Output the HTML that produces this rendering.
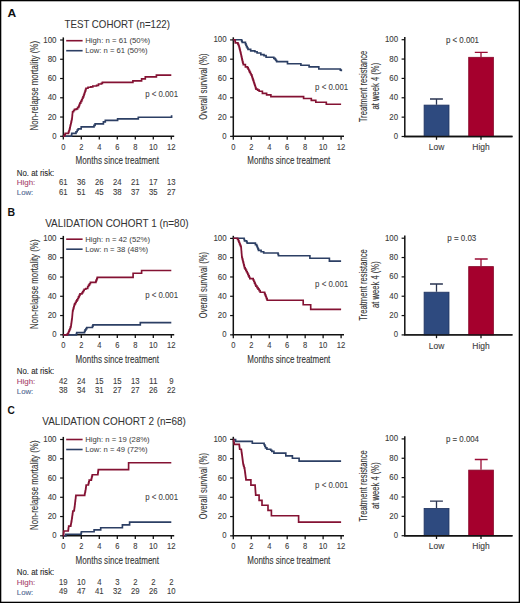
<!DOCTYPE html><html><head><meta charset="utf-8"><style>html,body{margin:0;padding:0;background:#fff;width:520px;height:603px;overflow:hidden}svg{display:block;font-family:"Liberation Sans", sans-serif}</style></head><body>
<svg width="520" height="603" viewBox="0 0 520 603">
<rect x="0" y="0" width="520" height="603" fill="#fff"/>
<text x="7.6" y="17.0" font-size="10.8" textLength="8.7" lengthAdjust="spacingAndGlyphs" font-weight="bold" fill="#111" stroke="#111" stroke-width="0">A</text>
<text x="64.5" y="28.1" font-size="10.3" textLength="105.5" lengthAdjust="spacingAndGlyphs" fill="#333" stroke="#333" stroke-width="0.05">TEST COHORT (n=122)</text>
<path d="M63.3,37.4V136.3" stroke="#111" stroke-width="1.5" fill="none"/>
<path d="M62.599999999999994,136.3H174.20000000000002" stroke="#111" stroke-width="1.5" fill="none"/>
<path d="M60.099999999999994,136.30H63.3" stroke="#111" stroke-width="1.2"/>
<path d="M60.099999999999994,117.04H63.3" stroke="#111" stroke-width="1.2"/>
<path d="M60.099999999999994,97.78H63.3" stroke="#111" stroke-width="1.2"/>
<path d="M60.099999999999994,78.52H63.3" stroke="#111" stroke-width="1.2"/>
<path d="M60.099999999999994,59.26H63.3" stroke="#111" stroke-width="1.2"/>
<path d="M60.099999999999994,40.00H63.3" stroke="#111" stroke-width="1.2"/>
<path d="M63.30,136.3V139.60000000000002" stroke="#111" stroke-width="1.3"/>
<path d="M81.30,136.3V139.60000000000002" stroke="#111" stroke-width="1.3"/>
<path d="M99.30,136.3V139.60000000000002" stroke="#111" stroke-width="1.3"/>
<path d="M117.30,136.3V139.60000000000002" stroke="#111" stroke-width="1.3"/>
<path d="M135.30,136.3V139.60000000000002" stroke="#111" stroke-width="1.3"/>
<path d="M153.30,136.3V139.60000000000002" stroke="#111" stroke-width="1.3"/>
<path d="M171.30,136.3V139.60000000000002" stroke="#111" stroke-width="1.3"/>
<text x="56.5" y="138.85" font-size="8.7" text-anchor="end" textLength="4.3" lengthAdjust="spacingAndGlyphs" fill="#3c3c3c" stroke="#3c3c3c" stroke-width="0.1">0</text>
<text x="56.5" y="119.59" font-size="8.7" text-anchor="end" textLength="8.8" lengthAdjust="spacingAndGlyphs" fill="#3c3c3c" stroke="#3c3c3c" stroke-width="0.1">20</text>
<text x="56.5" y="100.33" font-size="8.7" text-anchor="end" textLength="8.8" lengthAdjust="spacingAndGlyphs" fill="#3c3c3c" stroke="#3c3c3c" stroke-width="0.1">40</text>
<text x="56.5" y="81.07" font-size="8.7" text-anchor="end" textLength="8.8" lengthAdjust="spacingAndGlyphs" fill="#3c3c3c" stroke="#3c3c3c" stroke-width="0.1">60</text>
<text x="56.5" y="61.81" font-size="8.7" text-anchor="end" textLength="8.8" lengthAdjust="spacingAndGlyphs" fill="#3c3c3c" stroke="#3c3c3c" stroke-width="0.1">80</text>
<text x="56.5" y="42.55" font-size="8.7" text-anchor="end" textLength="13.2" lengthAdjust="spacingAndGlyphs" fill="#3c3c3c" stroke="#3c3c3c" stroke-width="0.1">100</text>
<text x="63.30" y="149.9" font-size="8.7" text-anchor="middle" textLength="4.2" lengthAdjust="spacingAndGlyphs" fill="#3c3c3c" stroke="#3c3c3c" stroke-width="0.1">0</text>
<text x="81.30" y="149.9" font-size="8.7" text-anchor="middle" textLength="4.2" lengthAdjust="spacingAndGlyphs" fill="#3c3c3c" stroke="#3c3c3c" stroke-width="0.1">2</text>
<text x="99.30" y="149.9" font-size="8.7" text-anchor="middle" textLength="4.2" lengthAdjust="spacingAndGlyphs" fill="#3c3c3c" stroke="#3c3c3c" stroke-width="0.1">4</text>
<text x="117.30" y="149.9" font-size="8.7" text-anchor="middle" textLength="4.2" lengthAdjust="spacingAndGlyphs" fill="#3c3c3c" stroke="#3c3c3c" stroke-width="0.1">6</text>
<text x="135.30" y="149.9" font-size="8.7" text-anchor="middle" textLength="4.2" lengthAdjust="spacingAndGlyphs" fill="#3c3c3c" stroke="#3c3c3c" stroke-width="0.1">8</text>
<text x="153.30" y="149.9" font-size="8.7" text-anchor="middle" textLength="8.6" lengthAdjust="spacingAndGlyphs" fill="#3c3c3c" stroke="#3c3c3c" stroke-width="0.1">10</text>
<text x="171.30" y="149.9" font-size="8.7" text-anchor="middle" textLength="8.6" lengthAdjust="spacingAndGlyphs" fill="#3c3c3c" stroke="#3c3c3c" stroke-width="0.1">12</text>
<text x="117.3" y="164.1" font-size="10" text-anchor="middle" textLength="83.5" lengthAdjust="spacingAndGlyphs" fill="#333" stroke="#333" stroke-width="0.1">Months since treatment</text>
<text transform="translate(37.6,85.7) rotate(-90)" font-size="10" text-anchor="middle" textLength="89.4" lengthAdjust="spacingAndGlyphs" fill="#333" stroke="#333" stroke-width="0.1">Non-relapse mortality (%)</text>
<path d="M66.2,40.7H82.6" stroke="#841233" stroke-width="1.6"/>
<path d="M66.2,50.7H82.6" stroke="#2c3f64" stroke-width="1.6"/>
<text x="85.2" y="43.2" font-size="7.2" textLength="65.0" lengthAdjust="spacingAndGlyphs" fill="#3a3a3a" stroke="#3a3a3a" stroke-width="0">High: n = 61 (50%)</text>
<text x="85.2" y="53.2" font-size="7.2" textLength="62.5" lengthAdjust="spacingAndGlyphs" fill="#3a3a3a" stroke="#3a3a3a" stroke-width="0">Low: n = 61 (50%)</text>
<text x="145.2" y="97.0" font-size="8.4" textLength="32.9" lengthAdjust="spacingAndGlyphs" fill="#3c3c3c" stroke="#3c3c3c" stroke-width="0.05">p &lt; 0.001</text>
<text x="16.8" y="175.9" font-size="8.5" textLength="37.5" lengthAdjust="spacingAndGlyphs" fill="#2a2a2a" stroke="#2a2a2a" stroke-width="0.1">No. at risk:</text>
<text x="16.8" y="185.4" font-size="8.1" textLength="18.5" lengthAdjust="spacingAndGlyphs" fill="#a8456a" stroke="#a8456a" stroke-width="0.1">High:</text>
<text x="16.8" y="195.0" font-size="8.1" textLength="16.5" lengthAdjust="spacingAndGlyphs" fill="#4e6690" stroke="#4e6690" stroke-width="0.1">Low:</text>
<text x="63.30" y="185.2" font-size="8.4" text-anchor="middle" textLength="8.6" lengthAdjust="spacingAndGlyphs" fill="#3c3c3c" stroke="#3c3c3c" stroke-width="0.1">61</text>
<text x="63.30" y="194.8" font-size="8.4" text-anchor="middle" textLength="8.6" lengthAdjust="spacingAndGlyphs" fill="#3c3c3c" stroke="#3c3c3c" stroke-width="0.1">61</text>
<text x="81.30" y="185.2" font-size="8.4" text-anchor="middle" textLength="8.6" lengthAdjust="spacingAndGlyphs" fill="#3c3c3c" stroke="#3c3c3c" stroke-width="0.1">36</text>
<text x="81.30" y="194.8" font-size="8.4" text-anchor="middle" textLength="8.6" lengthAdjust="spacingAndGlyphs" fill="#3c3c3c" stroke="#3c3c3c" stroke-width="0.1">51</text>
<text x="99.30" y="185.2" font-size="8.4" text-anchor="middle" textLength="8.6" lengthAdjust="spacingAndGlyphs" fill="#3c3c3c" stroke="#3c3c3c" stroke-width="0.1">26</text>
<text x="99.30" y="194.8" font-size="8.4" text-anchor="middle" textLength="8.6" lengthAdjust="spacingAndGlyphs" fill="#3c3c3c" stroke="#3c3c3c" stroke-width="0.1">45</text>
<text x="117.30" y="185.2" font-size="8.4" text-anchor="middle" textLength="8.6" lengthAdjust="spacingAndGlyphs" fill="#3c3c3c" stroke="#3c3c3c" stroke-width="0.1">24</text>
<text x="117.30" y="194.8" font-size="8.4" text-anchor="middle" textLength="8.6" lengthAdjust="spacingAndGlyphs" fill="#3c3c3c" stroke="#3c3c3c" stroke-width="0.1">38</text>
<text x="135.30" y="185.2" font-size="8.4" text-anchor="middle" textLength="8.6" lengthAdjust="spacingAndGlyphs" fill="#3c3c3c" stroke="#3c3c3c" stroke-width="0.1">21</text>
<text x="135.30" y="194.8" font-size="8.4" text-anchor="middle" textLength="8.6" lengthAdjust="spacingAndGlyphs" fill="#3c3c3c" stroke="#3c3c3c" stroke-width="0.1">37</text>
<text x="153.30" y="185.2" font-size="8.4" text-anchor="middle" textLength="8.6" lengthAdjust="spacingAndGlyphs" fill="#3c3c3c" stroke="#3c3c3c" stroke-width="0.1">17</text>
<text x="153.30" y="194.8" font-size="8.4" text-anchor="middle" textLength="8.6" lengthAdjust="spacingAndGlyphs" fill="#3c3c3c" stroke="#3c3c3c" stroke-width="0.1">35</text>
<text x="171.30" y="185.2" font-size="8.4" text-anchor="middle" textLength="8.6" lengthAdjust="spacingAndGlyphs" fill="#3c3c3c" stroke="#3c3c3c" stroke-width="0.1">13</text>
<text x="171.30" y="194.8" font-size="8.4" text-anchor="middle" textLength="8.6" lengthAdjust="spacingAndGlyphs" fill="#3c3c3c" stroke="#3c3c3c" stroke-width="0.1">27</text>
<path d="M63.10,136.20H71.40H71.55V134.80H71.70V133.40H74.80H76.00V131.70H77.20V130.00H78.20V128.80H81.20V126.80H92.90H94.00V125.30H95.10V123.80H102.20H103.40V121.80H105.30V120.30H116.80H117.60V118.80H138.30V117.20H170.30H171.60V115.30" stroke="#2c3f64" stroke-width="1.65" fill="none" stroke-linejoin="miter"/>
<path d="M63.10,136.20H64.00V135.80H64.60V134.60H65.20V133.40H68.00H68.50V131.97H69.00V130.53H69.50V129.10H69.85V127.55H70.20V126.00H70.50V124.75H70.80V123.50H71.10V122.12H71.40V120.75H71.70V119.38H72.00V118.00H72.15V116.42H72.30V114.85H72.45V113.28H72.60V111.70H73.55V110.50H74.50V109.30H76.40V108.80H77.60V107.40H78.80V106.00H79.30V104.55H79.80V103.10H80.75V101.40H81.70V99.70H82.33V98.27H82.97V96.83H83.60V95.40H84.08V93.96H84.56V92.52H85.04V91.08H85.52V89.64H86.00V88.20H88.00V87.20H90.80V86.90H92.80V86.00H96.60V85.30H98.50V84.00H101.40V83.40H102.40V82.40H132.90V80.90H141.60V78.80H145.30V76.80H156.40V75.10H171.30" stroke="#841233" stroke-width="1.65" fill="none" stroke-linejoin="miter"/>
<path d="M233.3,37.3V136.35" stroke="#111" stroke-width="1.5" fill="none"/>
<path d="M232.60000000000002,136.35H344.0" stroke="#111" stroke-width="1.5" fill="none"/>
<path d="M230.10000000000002,136.35H233.3" stroke="#111" stroke-width="1.2"/>
<path d="M230.10000000000002,117.06H233.3" stroke="#111" stroke-width="1.2"/>
<path d="M230.10000000000002,97.77H233.3" stroke="#111" stroke-width="1.2"/>
<path d="M230.10000000000002,78.48H233.3" stroke="#111" stroke-width="1.2"/>
<path d="M230.10000000000002,59.19H233.3" stroke="#111" stroke-width="1.2"/>
<path d="M230.10000000000002,39.90H233.3" stroke="#111" stroke-width="1.2"/>
<path d="M233.30,136.35V139.65" stroke="#111" stroke-width="1.3"/>
<path d="M251.27,136.35V139.65" stroke="#111" stroke-width="1.3"/>
<path d="M269.23,136.35V139.65" stroke="#111" stroke-width="1.3"/>
<path d="M287.20,136.35V139.65" stroke="#111" stroke-width="1.3"/>
<path d="M305.17,136.35V139.65" stroke="#111" stroke-width="1.3"/>
<path d="M323.13,136.35V139.65" stroke="#111" stroke-width="1.3"/>
<path d="M341.10,136.35V139.65" stroke="#111" stroke-width="1.3"/>
<text x="226.6" y="138.90" font-size="8.7" text-anchor="end" textLength="4.3" lengthAdjust="spacingAndGlyphs" fill="#3c3c3c" stroke="#3c3c3c" stroke-width="0.1">0</text>
<text x="226.6" y="119.61" font-size="8.7" text-anchor="end" textLength="8.8" lengthAdjust="spacingAndGlyphs" fill="#3c3c3c" stroke="#3c3c3c" stroke-width="0.1">20</text>
<text x="226.6" y="100.32" font-size="8.7" text-anchor="end" textLength="8.8" lengthAdjust="spacingAndGlyphs" fill="#3c3c3c" stroke="#3c3c3c" stroke-width="0.1">40</text>
<text x="226.6" y="81.03" font-size="8.7" text-anchor="end" textLength="8.8" lengthAdjust="spacingAndGlyphs" fill="#3c3c3c" stroke="#3c3c3c" stroke-width="0.1">60</text>
<text x="226.6" y="61.74" font-size="8.7" text-anchor="end" textLength="8.8" lengthAdjust="spacingAndGlyphs" fill="#3c3c3c" stroke="#3c3c3c" stroke-width="0.1">80</text>
<text x="226.6" y="42.45" font-size="8.7" text-anchor="end" textLength="13.2" lengthAdjust="spacingAndGlyphs" fill="#3c3c3c" stroke="#3c3c3c" stroke-width="0.1">100</text>
<text x="233.30" y="149.9" font-size="8.7" text-anchor="middle" textLength="4.2" lengthAdjust="spacingAndGlyphs" fill="#3c3c3c" stroke="#3c3c3c" stroke-width="0.1">0</text>
<text x="251.27" y="149.9" font-size="8.7" text-anchor="middle" textLength="4.2" lengthAdjust="spacingAndGlyphs" fill="#3c3c3c" stroke="#3c3c3c" stroke-width="0.1">2</text>
<text x="269.23" y="149.9" font-size="8.7" text-anchor="middle" textLength="4.2" lengthAdjust="spacingAndGlyphs" fill="#3c3c3c" stroke="#3c3c3c" stroke-width="0.1">4</text>
<text x="287.20" y="149.9" font-size="8.7" text-anchor="middle" textLength="4.2" lengthAdjust="spacingAndGlyphs" fill="#3c3c3c" stroke="#3c3c3c" stroke-width="0.1">6</text>
<text x="305.17" y="149.9" font-size="8.7" text-anchor="middle" textLength="4.2" lengthAdjust="spacingAndGlyphs" fill="#3c3c3c" stroke="#3c3c3c" stroke-width="0.1">8</text>
<text x="323.13" y="149.9" font-size="8.7" text-anchor="middle" textLength="8.6" lengthAdjust="spacingAndGlyphs" fill="#3c3c3c" stroke="#3c3c3c" stroke-width="0.1">10</text>
<text x="341.10" y="149.9" font-size="8.7" text-anchor="middle" textLength="8.6" lengthAdjust="spacingAndGlyphs" fill="#3c3c3c" stroke="#3c3c3c" stroke-width="0.1">12</text>
<text x="288.8" y="164.1" font-size="10" text-anchor="middle" textLength="83.0" lengthAdjust="spacingAndGlyphs" fill="#333" stroke="#333" stroke-width="0.1">Months since treatment</text>
<text transform="translate(206.9,86.6) rotate(-90)" font-size="10" text-anchor="middle" textLength="66.4" lengthAdjust="spacingAndGlyphs" fill="#333" stroke="#333" stroke-width="0.1">Overall survival (%)</text>
<text x="315.1" y="89.8" font-size="8.4" textLength="33.1" lengthAdjust="spacingAndGlyphs" fill="#3c3c3c" stroke="#3c3c3c" stroke-width="0.05">p &lt; 0.001</text>
<path d="M233.20,39.70H241.10H241.65V41.05H242.20V42.40H244.90H245.43V43.80H245.97V45.20H246.50V46.60H247.25V47.95H248.00V49.30H250.70V50.90H254.90V51.70H257.10V53.00H260.80V54.60H264.00V55.60H266.10V57.20H272.50H273.80V58.30H275.10V59.40H275.90V60.50H276.70V61.60H287.50V63.70H300.90V65.20H309.10V66.90H318.80V69.00H339.40H340.35V70.10H341.30V71.20" stroke="#2c3f64" stroke-width="1.65" fill="none"/>
<path d="M233.20,39.70H234.80H235.05V41.30H235.30V42.90H237.40H237.93V44.13H238.47V45.37H239.00V46.60H239.32V47.88H239.64V49.16H239.96V50.44H240.28V51.72H240.60V53.00H240.92V54.48H241.24V55.96H241.56V57.44H241.88V58.92H242.20V60.40H242.57V61.83H242.93V63.27H243.30V64.70H245.40V66.80H247.50V67.80H248.20V69.23H248.90V70.67H249.60V72.10H250.33V73.50H251.07V74.90H251.80V76.30H252.22V77.58H252.64V78.86H253.06V80.14H253.48V81.42H253.90V82.70H254.32V83.98H254.74V85.26H255.16V86.54H255.58V87.82H256.00V89.10H257.60V90.15H259.20V91.20H262.40V93.30H266.60V94.90H270.90V96.60H303.60V98.50H311.30V100.40H315.80V102.20H326.30V104.20H341.10" stroke="#841233" stroke-width="1.65" fill="none"/>
<path d="M404.8,37.1V136.5" stroke="#111" stroke-width="1.5" fill="none"/>
<path d="M404.1,136.5H512.5" stroke="#111" stroke-width="1.4" fill="none"/>
<path d="M401.6,136.50H404.8" stroke="#111" stroke-width="1.2"/>
<path d="M401.6,117.14H404.8" stroke="#111" stroke-width="1.2"/>
<path d="M401.6,97.78H404.8" stroke="#111" stroke-width="1.2"/>
<path d="M401.6,78.42H404.8" stroke="#111" stroke-width="1.2"/>
<path d="M401.6,59.06H404.8" stroke="#111" stroke-width="1.2"/>
<path d="M401.6,39.70H404.8" stroke="#111" stroke-width="1.2"/>
<path d="M436.5,136.5V139.8" stroke="#111" stroke-width="1.3"/>
<path d="M481.0,136.5V139.8" stroke="#111" stroke-width="1.3"/>
<text x="398.1" y="139.05" font-size="8.7" text-anchor="end" textLength="4.3" lengthAdjust="spacingAndGlyphs" fill="#3c3c3c" stroke="#3c3c3c" stroke-width="0.1">0</text>
<text x="398.1" y="119.69" font-size="8.7" text-anchor="end" textLength="8.8" lengthAdjust="spacingAndGlyphs" fill="#3c3c3c" stroke="#3c3c3c" stroke-width="0.1">20</text>
<text x="398.1" y="100.33" font-size="8.7" text-anchor="end" textLength="8.8" lengthAdjust="spacingAndGlyphs" fill="#3c3c3c" stroke="#3c3c3c" stroke-width="0.1">40</text>
<text x="398.1" y="80.97" font-size="8.7" text-anchor="end" textLength="8.8" lengthAdjust="spacingAndGlyphs" fill="#3c3c3c" stroke="#3c3c3c" stroke-width="0.1">60</text>
<text x="398.1" y="61.61" font-size="8.7" text-anchor="end" textLength="8.8" lengthAdjust="spacingAndGlyphs" fill="#3c3c3c" stroke="#3c3c3c" stroke-width="0.1">80</text>
<text x="398.1" y="42.25" font-size="8.7" text-anchor="end" textLength="13.2" lengthAdjust="spacingAndGlyphs" fill="#3c3c3c" stroke="#3c3c3c" stroke-width="0.1">100</text>
<text transform="translate(366.6,86.5) rotate(-90)" font-size="10" text-anchor="middle" textLength="71.6" lengthAdjust="spacingAndGlyphs" fill="#333" stroke="#333" stroke-width="0.1">Treatment resistance</text>
<text transform="translate(379.0,86.2) rotate(-90)" font-size="10" text-anchor="middle" textLength="46.8" lengthAdjust="spacingAndGlyphs" fill="#333" stroke="#333" stroke-width="0.1">at week 4 (%)</text>
<rect x="424.1" y="105.10000000000001" width="24.9" height="31.40" fill="#2e4a7f" stroke="#1f3360" stroke-width="0.8"/>
<rect x="468.7" y="57.3" width="24.7" height="79.20" fill="#a5002d" stroke="#86082a" stroke-width="0.8"/>
<path d="M436.5,104.7V99.0M430,99.0H442.9" stroke="#2a3552" stroke-width="1.3" fill="none"/>
<path d="M481,56.9V52.3M474.8,52.3H487.7" stroke="#9a0c35" stroke-width="1.3" fill="none"/>
<path d="M404.1,136.5H512.5" stroke="#111" stroke-width="1.4" fill="none"/>
<text x="436.5" y="150.2" font-size="8.4" text-anchor="middle" textLength="15.5" lengthAdjust="spacingAndGlyphs" fill="#3c3c3c" stroke="#3c3c3c" stroke-width="0.1">Low</text>
<text x="481.0" y="150.2" font-size="8.4" text-anchor="middle" textLength="17.5" lengthAdjust="spacingAndGlyphs" fill="#3c3c3c" stroke="#3c3c3c" stroke-width="0.1">High</text>
<text x="446.0" y="42.7" font-size="8.4" textLength="33.0" lengthAdjust="spacingAndGlyphs" fill="#3c3c3c" stroke="#3c3c3c" stroke-width="0.1">p &lt; 0.001</text>
<text x="7.6" y="215.5" font-size="10.8" textLength="7.6" lengthAdjust="spacingAndGlyphs" font-weight="bold" fill="#111" stroke="#111" stroke-width="0">B</text>
<text x="45.2" y="226.6" font-size="10.3" textLength="143.3" lengthAdjust="spacingAndGlyphs" fill="#333" stroke="#333" stroke-width="0.05">VALIDATION COHORT 1 (n=80)</text>
<path d="M63.3,235.9V334.8" stroke="#111" stroke-width="1.5" fill="none"/>
<path d="M62.599999999999994,334.8H174.20000000000002" stroke="#111" stroke-width="1.5" fill="none"/>
<path d="M60.099999999999994,334.80H63.3" stroke="#111" stroke-width="1.2"/>
<path d="M60.099999999999994,315.54H63.3" stroke="#111" stroke-width="1.2"/>
<path d="M60.099999999999994,296.28H63.3" stroke="#111" stroke-width="1.2"/>
<path d="M60.099999999999994,277.02H63.3" stroke="#111" stroke-width="1.2"/>
<path d="M60.099999999999994,257.76H63.3" stroke="#111" stroke-width="1.2"/>
<path d="M60.099999999999994,238.50H63.3" stroke="#111" stroke-width="1.2"/>
<path d="M63.30,334.8V338.1" stroke="#111" stroke-width="1.3"/>
<path d="M81.30,334.8V338.1" stroke="#111" stroke-width="1.3"/>
<path d="M99.30,334.8V338.1" stroke="#111" stroke-width="1.3"/>
<path d="M117.30,334.8V338.1" stroke="#111" stroke-width="1.3"/>
<path d="M135.30,334.8V338.1" stroke="#111" stroke-width="1.3"/>
<path d="M153.30,334.8V338.1" stroke="#111" stroke-width="1.3"/>
<path d="M171.30,334.8V338.1" stroke="#111" stroke-width="1.3"/>
<text x="56.5" y="337.35" font-size="8.7" text-anchor="end" textLength="4.3" lengthAdjust="spacingAndGlyphs" fill="#3c3c3c" stroke="#3c3c3c" stroke-width="0.1">0</text>
<text x="56.5" y="318.09" font-size="8.7" text-anchor="end" textLength="8.8" lengthAdjust="spacingAndGlyphs" fill="#3c3c3c" stroke="#3c3c3c" stroke-width="0.1">20</text>
<text x="56.5" y="298.83" font-size="8.7" text-anchor="end" textLength="8.8" lengthAdjust="spacingAndGlyphs" fill="#3c3c3c" stroke="#3c3c3c" stroke-width="0.1">40</text>
<text x="56.5" y="279.57" font-size="8.7" text-anchor="end" textLength="8.8" lengthAdjust="spacingAndGlyphs" fill="#3c3c3c" stroke="#3c3c3c" stroke-width="0.1">60</text>
<text x="56.5" y="260.31" font-size="8.7" text-anchor="end" textLength="8.8" lengthAdjust="spacingAndGlyphs" fill="#3c3c3c" stroke="#3c3c3c" stroke-width="0.1">80</text>
<text x="56.5" y="241.05" font-size="8.7" text-anchor="end" textLength="13.2" lengthAdjust="spacingAndGlyphs" fill="#3c3c3c" stroke="#3c3c3c" stroke-width="0.1">100</text>
<text x="63.30" y="348.4" font-size="8.7" text-anchor="middle" textLength="4.2" lengthAdjust="spacingAndGlyphs" fill="#3c3c3c" stroke="#3c3c3c" stroke-width="0.1">0</text>
<text x="81.30" y="348.4" font-size="8.7" text-anchor="middle" textLength="4.2" lengthAdjust="spacingAndGlyphs" fill="#3c3c3c" stroke="#3c3c3c" stroke-width="0.1">2</text>
<text x="99.30" y="348.4" font-size="8.7" text-anchor="middle" textLength="4.2" lengthAdjust="spacingAndGlyphs" fill="#3c3c3c" stroke="#3c3c3c" stroke-width="0.1">4</text>
<text x="117.30" y="348.4" font-size="8.7" text-anchor="middle" textLength="4.2" lengthAdjust="spacingAndGlyphs" fill="#3c3c3c" stroke="#3c3c3c" stroke-width="0.1">6</text>
<text x="135.30" y="348.4" font-size="8.7" text-anchor="middle" textLength="4.2" lengthAdjust="spacingAndGlyphs" fill="#3c3c3c" stroke="#3c3c3c" stroke-width="0.1">8</text>
<text x="153.30" y="348.4" font-size="8.7" text-anchor="middle" textLength="8.6" lengthAdjust="spacingAndGlyphs" fill="#3c3c3c" stroke="#3c3c3c" stroke-width="0.1">10</text>
<text x="171.30" y="348.4" font-size="8.7" text-anchor="middle" textLength="8.6" lengthAdjust="spacingAndGlyphs" fill="#3c3c3c" stroke="#3c3c3c" stroke-width="0.1">12</text>
<text x="117.3" y="362.6" font-size="10" text-anchor="middle" textLength="83.5" lengthAdjust="spacingAndGlyphs" fill="#333" stroke="#333" stroke-width="0.1">Months since treatment</text>
<text transform="translate(37.6,284.2) rotate(-90)" font-size="10" text-anchor="middle" textLength="89.4" lengthAdjust="spacingAndGlyphs" fill="#333" stroke="#333" stroke-width="0.1">Non-relapse mortality (%)</text>
<path d="M66.2,239.2H82.6" stroke="#841233" stroke-width="1.6"/>
<path d="M66.2,249.2H82.6" stroke="#2c3f64" stroke-width="1.6"/>
<text x="85.2" y="241.7" font-size="7.2" textLength="64.8" lengthAdjust="spacingAndGlyphs" fill="#3a3a3a" stroke="#3a3a3a" stroke-width="0">High: n = 42 (52%)</text>
<text x="85.2" y="251.7" font-size="7.2" textLength="62.9" lengthAdjust="spacingAndGlyphs" fill="#3a3a3a" stroke="#3a3a3a" stroke-width="0">Low: n = 38 (48%)</text>
<text x="145.2" y="298.2" font-size="8.4" textLength="32.9" lengthAdjust="spacingAndGlyphs" fill="#3c3c3c" stroke="#3c3c3c" stroke-width="0.05">p &lt; 0.001</text>
<text x="16.8" y="374.4" font-size="8.5" textLength="37.5" lengthAdjust="spacingAndGlyphs" fill="#2a2a2a" stroke="#2a2a2a" stroke-width="0.1">No. at risk:</text>
<text x="16.8" y="383.9" font-size="8.1" textLength="18.5" lengthAdjust="spacingAndGlyphs" fill="#a8456a" stroke="#a8456a" stroke-width="0.1">High:</text>
<text x="16.8" y="393.5" font-size="8.1" textLength="16.5" lengthAdjust="spacingAndGlyphs" fill="#4e6690" stroke="#4e6690" stroke-width="0.1">Low:</text>
<text x="63.30" y="383.7" font-size="8.4" text-anchor="middle" textLength="8.6" lengthAdjust="spacingAndGlyphs" fill="#3c3c3c" stroke="#3c3c3c" stroke-width="0.1">42</text>
<text x="63.30" y="393.3" font-size="8.4" text-anchor="middle" textLength="8.6" lengthAdjust="spacingAndGlyphs" fill="#3c3c3c" stroke="#3c3c3c" stroke-width="0.1">38</text>
<text x="81.30" y="383.7" font-size="8.4" text-anchor="middle" textLength="8.6" lengthAdjust="spacingAndGlyphs" fill="#3c3c3c" stroke="#3c3c3c" stroke-width="0.1">24</text>
<text x="81.30" y="393.3" font-size="8.4" text-anchor="middle" textLength="8.6" lengthAdjust="spacingAndGlyphs" fill="#3c3c3c" stroke="#3c3c3c" stroke-width="0.1">34</text>
<text x="99.30" y="383.7" font-size="8.4" text-anchor="middle" textLength="8.6" lengthAdjust="spacingAndGlyphs" fill="#3c3c3c" stroke="#3c3c3c" stroke-width="0.1">15</text>
<text x="99.30" y="393.3" font-size="8.4" text-anchor="middle" textLength="8.6" lengthAdjust="spacingAndGlyphs" fill="#3c3c3c" stroke="#3c3c3c" stroke-width="0.1">31</text>
<text x="117.30" y="383.7" font-size="8.4" text-anchor="middle" textLength="8.6" lengthAdjust="spacingAndGlyphs" fill="#3c3c3c" stroke="#3c3c3c" stroke-width="0.1">15</text>
<text x="117.30" y="393.3" font-size="8.4" text-anchor="middle" textLength="8.6" lengthAdjust="spacingAndGlyphs" fill="#3c3c3c" stroke="#3c3c3c" stroke-width="0.1">27</text>
<text x="135.30" y="383.7" font-size="8.4" text-anchor="middle" textLength="8.6" lengthAdjust="spacingAndGlyphs" fill="#3c3c3c" stroke="#3c3c3c" stroke-width="0.1">13</text>
<text x="135.30" y="393.3" font-size="8.4" text-anchor="middle" textLength="8.6" lengthAdjust="spacingAndGlyphs" fill="#3c3c3c" stroke="#3c3c3c" stroke-width="0.1">27</text>
<text x="153.30" y="383.7" font-size="8.4" text-anchor="middle" textLength="8.6" lengthAdjust="spacingAndGlyphs" fill="#3c3c3c" stroke="#3c3c3c" stroke-width="0.1">11</text>
<text x="153.30" y="393.3" font-size="8.4" text-anchor="middle" textLength="8.6" lengthAdjust="spacingAndGlyphs" fill="#3c3c3c" stroke="#3c3c3c" stroke-width="0.1">26</text>
<text x="171.30" y="383.7" font-size="8.4" text-anchor="middle" textLength="4.3" lengthAdjust="spacingAndGlyphs" fill="#3c3c3c" stroke="#3c3c3c" stroke-width="0.1">9</text>
<text x="171.30" y="393.3" font-size="8.4" text-anchor="middle" textLength="8.6" lengthAdjust="spacingAndGlyphs" fill="#3c3c3c" stroke="#3c3c3c" stroke-width="0.1">22</text>
<path d="M63.10,334.80H76.10H76.40V333.70H76.70V332.60H84.00H84.55V331.20H85.10V329.80H85.95V328.65H86.80V327.50H91.90H92.45V326.15H93.00V324.80H140.30V322.60H171.30" stroke="#2c3f64" stroke-width="1.65" fill="none" stroke-linejoin="miter"/>
<path d="M63.10,334.80H66.50H67.35V333.70H68.20V332.60H68.77V331.27H69.33V329.93H69.90V328.60H70.45V326.90H71.00V325.20H71.18V323.90H71.37V322.60H71.55V321.30H71.73V320.00H71.92V318.70H72.10V317.40H72.22V316.04H72.34V314.68H72.46V313.32H72.58V311.96H72.70V310.60H73.08V309.24H73.46V307.88H73.84V306.52H74.22V305.16H74.60V303.80H75.38V302.48H76.15V301.15H76.92V299.82H77.70V298.50H78.47V296.93H79.23V295.37H80.00V293.80H81.90V293.00H82.67V291.73H83.43V290.47H84.20V289.20H85.80V288.50H87.70V286.50H88.60V285.10H89.50V283.70H90.40V282.30H95.40H95.88V281.07H96.35V279.85H96.83V278.62H97.30V277.40H133.10V273.20H141.60V270.50H171.30" stroke="#841233" stroke-width="1.65" fill="none" stroke-linejoin="miter"/>
<path d="M233.3,235.8V334.85" stroke="#111" stroke-width="1.5" fill="none"/>
<path d="M232.60000000000002,334.85H344.0" stroke="#111" stroke-width="1.5" fill="none"/>
<path d="M230.10000000000002,334.85H233.3" stroke="#111" stroke-width="1.2"/>
<path d="M230.10000000000002,315.56H233.3" stroke="#111" stroke-width="1.2"/>
<path d="M230.10000000000002,296.27H233.3" stroke="#111" stroke-width="1.2"/>
<path d="M230.10000000000002,276.98H233.3" stroke="#111" stroke-width="1.2"/>
<path d="M230.10000000000002,257.69H233.3" stroke="#111" stroke-width="1.2"/>
<path d="M230.10000000000002,238.40H233.3" stroke="#111" stroke-width="1.2"/>
<path d="M233.30,334.85V338.15000000000003" stroke="#111" stroke-width="1.3"/>
<path d="M251.27,334.85V338.15000000000003" stroke="#111" stroke-width="1.3"/>
<path d="M269.23,334.85V338.15000000000003" stroke="#111" stroke-width="1.3"/>
<path d="M287.20,334.85V338.15000000000003" stroke="#111" stroke-width="1.3"/>
<path d="M305.17,334.85V338.15000000000003" stroke="#111" stroke-width="1.3"/>
<path d="M323.13,334.85V338.15000000000003" stroke="#111" stroke-width="1.3"/>
<path d="M341.10,334.85V338.15000000000003" stroke="#111" stroke-width="1.3"/>
<text x="226.6" y="337.40" font-size="8.7" text-anchor="end" textLength="4.3" lengthAdjust="spacingAndGlyphs" fill="#3c3c3c" stroke="#3c3c3c" stroke-width="0.1">0</text>
<text x="226.6" y="318.11" font-size="8.7" text-anchor="end" textLength="8.8" lengthAdjust="spacingAndGlyphs" fill="#3c3c3c" stroke="#3c3c3c" stroke-width="0.1">20</text>
<text x="226.6" y="298.82" font-size="8.7" text-anchor="end" textLength="8.8" lengthAdjust="spacingAndGlyphs" fill="#3c3c3c" stroke="#3c3c3c" stroke-width="0.1">40</text>
<text x="226.6" y="279.53" font-size="8.7" text-anchor="end" textLength="8.8" lengthAdjust="spacingAndGlyphs" fill="#3c3c3c" stroke="#3c3c3c" stroke-width="0.1">60</text>
<text x="226.6" y="260.24" font-size="8.7" text-anchor="end" textLength="8.8" lengthAdjust="spacingAndGlyphs" fill="#3c3c3c" stroke="#3c3c3c" stroke-width="0.1">80</text>
<text x="226.6" y="240.95" font-size="8.7" text-anchor="end" textLength="13.2" lengthAdjust="spacingAndGlyphs" fill="#3c3c3c" stroke="#3c3c3c" stroke-width="0.1">100</text>
<text x="233.30" y="348.4" font-size="8.7" text-anchor="middle" textLength="4.2" lengthAdjust="spacingAndGlyphs" fill="#3c3c3c" stroke="#3c3c3c" stroke-width="0.1">0</text>
<text x="251.27" y="348.4" font-size="8.7" text-anchor="middle" textLength="4.2" lengthAdjust="spacingAndGlyphs" fill="#3c3c3c" stroke="#3c3c3c" stroke-width="0.1">2</text>
<text x="269.23" y="348.4" font-size="8.7" text-anchor="middle" textLength="4.2" lengthAdjust="spacingAndGlyphs" fill="#3c3c3c" stroke="#3c3c3c" stroke-width="0.1">4</text>
<text x="287.20" y="348.4" font-size="8.7" text-anchor="middle" textLength="4.2" lengthAdjust="spacingAndGlyphs" fill="#3c3c3c" stroke="#3c3c3c" stroke-width="0.1">6</text>
<text x="305.17" y="348.4" font-size="8.7" text-anchor="middle" textLength="4.2" lengthAdjust="spacingAndGlyphs" fill="#3c3c3c" stroke="#3c3c3c" stroke-width="0.1">8</text>
<text x="323.13" y="348.4" font-size="8.7" text-anchor="middle" textLength="8.6" lengthAdjust="spacingAndGlyphs" fill="#3c3c3c" stroke="#3c3c3c" stroke-width="0.1">10</text>
<text x="341.10" y="348.4" font-size="8.7" text-anchor="middle" textLength="8.6" lengthAdjust="spacingAndGlyphs" fill="#3c3c3c" stroke="#3c3c3c" stroke-width="0.1">12</text>
<text x="288.8" y="362.6" font-size="10" text-anchor="middle" textLength="83.0" lengthAdjust="spacingAndGlyphs" fill="#333" stroke="#333" stroke-width="0.1">Months since treatment</text>
<text transform="translate(206.9,285.1) rotate(-90)" font-size="10" text-anchor="middle" textLength="66.4" lengthAdjust="spacingAndGlyphs" fill="#333" stroke="#333" stroke-width="0.1">Overall survival (%)</text>
<text x="315.1" y="287.3" font-size="8.4" textLength="33.1" lengthAdjust="spacingAndGlyphs" fill="#3c3c3c" stroke="#3c3c3c" stroke-width="0.05">p &lt; 0.001</text>
<path d="M233.20,238.20H243.70H244.10V239.50H244.50V240.80H246.00H246.60V241.95H247.20V243.10H254.10H255.40V244.55H256.70V246.00H257.30V247.47H257.90V248.93H258.50V250.40H261.10V251.70H263.70V253.00H277.60H278.05V254.35H278.50V255.70H309.90V258.20H329.40V261.10H341.10" stroke="#2c3f64" stroke-width="1.65" fill="none"/>
<path d="M233.20,238.20H236.70H237.55V239.50H238.40V240.80H238.94V242.20H239.48V243.60H240.02V245.00H240.56V246.40H241.10V247.80H241.21V249.17H241.33V250.54H241.44V251.91H241.56V253.29H241.67V254.66H241.79V256.03H241.90V257.40H242.27V258.89H242.64V260.37H243.01V261.86H243.39V263.34H243.76V264.83H244.13V266.31H244.50V267.80H245.18V269.10H245.85V270.40H246.52V271.70H247.20V273.00H247.85V274.40H248.50V275.80H249.15V277.20H249.80V278.60H253.20V280.00H253.88V281.52H254.55V283.05H255.22V284.58H255.90V286.10H256.98V287.62H258.05V289.15H259.12V290.68H260.20V292.20H264.60V293.60H265.12V294.92H265.64V296.24H266.16V297.56H266.68V298.88H267.20V300.20H303.20V304.70H310.70V309.30H341.10" stroke="#841233" stroke-width="1.65" fill="none"/>
<path d="M404.8,235.6V334.9" stroke="#111" stroke-width="1.5" fill="none"/>
<path d="M404.1,334.9H512.5" stroke="#111" stroke-width="1.4" fill="none"/>
<path d="M401.6,334.90H404.8" stroke="#111" stroke-width="1.2"/>
<path d="M401.6,315.56H404.8" stroke="#111" stroke-width="1.2"/>
<path d="M401.6,296.22H404.8" stroke="#111" stroke-width="1.2"/>
<path d="M401.6,276.88H404.8" stroke="#111" stroke-width="1.2"/>
<path d="M401.6,257.54H404.8" stroke="#111" stroke-width="1.2"/>
<path d="M401.6,238.20H404.8" stroke="#111" stroke-width="1.2"/>
<path d="M436.5,334.9V338.2" stroke="#111" stroke-width="1.3"/>
<path d="M481.0,334.9V338.2" stroke="#111" stroke-width="1.3"/>
<text x="398.1" y="337.45" font-size="8.7" text-anchor="end" textLength="4.3" lengthAdjust="spacingAndGlyphs" fill="#3c3c3c" stroke="#3c3c3c" stroke-width="0.1">0</text>
<text x="398.1" y="318.11" font-size="8.7" text-anchor="end" textLength="8.8" lengthAdjust="spacingAndGlyphs" fill="#3c3c3c" stroke="#3c3c3c" stroke-width="0.1">20</text>
<text x="398.1" y="298.77" font-size="8.7" text-anchor="end" textLength="8.8" lengthAdjust="spacingAndGlyphs" fill="#3c3c3c" stroke="#3c3c3c" stroke-width="0.1">40</text>
<text x="398.1" y="279.43" font-size="8.7" text-anchor="end" textLength="8.8" lengthAdjust="spacingAndGlyphs" fill="#3c3c3c" stroke="#3c3c3c" stroke-width="0.1">60</text>
<text x="398.1" y="260.09" font-size="8.7" text-anchor="end" textLength="8.8" lengthAdjust="spacingAndGlyphs" fill="#3c3c3c" stroke="#3c3c3c" stroke-width="0.1">80</text>
<text x="398.1" y="240.75" font-size="8.7" text-anchor="end" textLength="13.2" lengthAdjust="spacingAndGlyphs" fill="#3c3c3c" stroke="#3c3c3c" stroke-width="0.1">100</text>
<text transform="translate(366.6,285.0) rotate(-90)" font-size="10" text-anchor="middle" textLength="71.6" lengthAdjust="spacingAndGlyphs" fill="#333" stroke="#333" stroke-width="0.1">Treatment resistance</text>
<text transform="translate(379.0,284.7) rotate(-90)" font-size="10" text-anchor="middle" textLength="46.8" lengthAdjust="spacingAndGlyphs" fill="#333" stroke="#333" stroke-width="0.1">at week 4 (%)</text>
<rect x="424.1" y="292.2" width="24.9" height="42.70" fill="#2e4a7f" stroke="#1f3360" stroke-width="0.8"/>
<rect x="468.7" y="266.59999999999997" width="24.7" height="68.30" fill="#a5002d" stroke="#86082a" stroke-width="0.8"/>
<path d="M436.5,291.8V284.0M430,284.0H442.9" stroke="#2a3552" stroke-width="1.3" fill="none"/>
<path d="M481,266.2V259.0M474.8,259.0H487.7" stroke="#9a0c35" stroke-width="1.3" fill="none"/>
<path d="M404.1,334.9H512.5" stroke="#111" stroke-width="1.4" fill="none"/>
<text x="436.5" y="348.59999999999997" font-size="8.4" text-anchor="middle" textLength="15.5" lengthAdjust="spacingAndGlyphs" fill="#3c3c3c" stroke="#3c3c3c" stroke-width="0.1">Low</text>
<text x="481.0" y="348.59999999999997" font-size="8.4" text-anchor="middle" textLength="17.5" lengthAdjust="spacingAndGlyphs" fill="#3c3c3c" stroke="#3c3c3c" stroke-width="0.1">High</text>
<text x="447.3" y="241.2" font-size="8.4" textLength="29.0" lengthAdjust="spacingAndGlyphs" fill="#3c3c3c" stroke="#3c3c3c" stroke-width="0.1">p = 0.03</text>
<text x="7.6" y="413.8" font-size="10.8" textLength="7.3" lengthAdjust="spacingAndGlyphs" font-weight="bold" fill="#111" stroke="#111" stroke-width="0">C</text>
<text x="42.3" y="424.90000000000003" font-size="10.3" textLength="143.5" lengthAdjust="spacingAndGlyphs" fill="#333" stroke="#333" stroke-width="0.05">VALIDATION COHORT 2 (n=68)</text>
<path d="M63.3,436.9V535.8" stroke="#111" stroke-width="1.5" fill="none"/>
<path d="M62.599999999999994,535.8H174.20000000000002" stroke="#111" stroke-width="1.5" fill="none"/>
<path d="M60.099999999999994,535.80H63.3" stroke="#111" stroke-width="1.2"/>
<path d="M60.099999999999994,516.54H63.3" stroke="#111" stroke-width="1.2"/>
<path d="M60.099999999999994,497.28H63.3" stroke="#111" stroke-width="1.2"/>
<path d="M60.099999999999994,478.02H63.3" stroke="#111" stroke-width="1.2"/>
<path d="M60.099999999999994,458.76H63.3" stroke="#111" stroke-width="1.2"/>
<path d="M60.099999999999994,439.50H63.3" stroke="#111" stroke-width="1.2"/>
<path d="M63.30,535.8V539.0999999999999" stroke="#111" stroke-width="1.3"/>
<path d="M81.30,535.8V539.0999999999999" stroke="#111" stroke-width="1.3"/>
<path d="M99.30,535.8V539.0999999999999" stroke="#111" stroke-width="1.3"/>
<path d="M117.30,535.8V539.0999999999999" stroke="#111" stroke-width="1.3"/>
<path d="M135.30,535.8V539.0999999999999" stroke="#111" stroke-width="1.3"/>
<path d="M153.30,535.8V539.0999999999999" stroke="#111" stroke-width="1.3"/>
<path d="M171.30,535.8V539.0999999999999" stroke="#111" stroke-width="1.3"/>
<text x="56.5" y="538.35" font-size="8.7" text-anchor="end" textLength="4.3" lengthAdjust="spacingAndGlyphs" fill="#3c3c3c" stroke="#3c3c3c" stroke-width="0.1">0</text>
<text x="56.5" y="519.09" font-size="8.7" text-anchor="end" textLength="8.8" lengthAdjust="spacingAndGlyphs" fill="#3c3c3c" stroke="#3c3c3c" stroke-width="0.1">20</text>
<text x="56.5" y="499.83" font-size="8.7" text-anchor="end" textLength="8.8" lengthAdjust="spacingAndGlyphs" fill="#3c3c3c" stroke="#3c3c3c" stroke-width="0.1">40</text>
<text x="56.5" y="480.57" font-size="8.7" text-anchor="end" textLength="8.8" lengthAdjust="spacingAndGlyphs" fill="#3c3c3c" stroke="#3c3c3c" stroke-width="0.1">60</text>
<text x="56.5" y="461.31" font-size="8.7" text-anchor="end" textLength="8.8" lengthAdjust="spacingAndGlyphs" fill="#3c3c3c" stroke="#3c3c3c" stroke-width="0.1">80</text>
<text x="56.5" y="442.05" font-size="8.7" text-anchor="end" textLength="13.2" lengthAdjust="spacingAndGlyphs" fill="#3c3c3c" stroke="#3c3c3c" stroke-width="0.1">100</text>
<text x="63.30" y="549.4" font-size="8.7" text-anchor="middle" textLength="4.2" lengthAdjust="spacingAndGlyphs" fill="#3c3c3c" stroke="#3c3c3c" stroke-width="0.1">0</text>
<text x="81.30" y="549.4" font-size="8.7" text-anchor="middle" textLength="4.2" lengthAdjust="spacingAndGlyphs" fill="#3c3c3c" stroke="#3c3c3c" stroke-width="0.1">2</text>
<text x="99.30" y="549.4" font-size="8.7" text-anchor="middle" textLength="4.2" lengthAdjust="spacingAndGlyphs" fill="#3c3c3c" stroke="#3c3c3c" stroke-width="0.1">4</text>
<text x="117.30" y="549.4" font-size="8.7" text-anchor="middle" textLength="4.2" lengthAdjust="spacingAndGlyphs" fill="#3c3c3c" stroke="#3c3c3c" stroke-width="0.1">6</text>
<text x="135.30" y="549.4" font-size="8.7" text-anchor="middle" textLength="4.2" lengthAdjust="spacingAndGlyphs" fill="#3c3c3c" stroke="#3c3c3c" stroke-width="0.1">8</text>
<text x="153.30" y="549.4" font-size="8.7" text-anchor="middle" textLength="8.6" lengthAdjust="spacingAndGlyphs" fill="#3c3c3c" stroke="#3c3c3c" stroke-width="0.1">10</text>
<text x="171.30" y="549.4" font-size="8.7" text-anchor="middle" textLength="8.6" lengthAdjust="spacingAndGlyphs" fill="#3c3c3c" stroke="#3c3c3c" stroke-width="0.1">12</text>
<text x="117.3" y="563.6" font-size="10" text-anchor="middle" textLength="83.5" lengthAdjust="spacingAndGlyphs" fill="#333" stroke="#333" stroke-width="0.1">Months since treatment</text>
<text transform="translate(37.6,485.2) rotate(-90)" font-size="10" text-anchor="middle" textLength="89.4" lengthAdjust="spacingAndGlyphs" fill="#333" stroke="#333" stroke-width="0.1">Non-relapse mortality (%)</text>
<path d="M66.2,439.5H82.6" stroke="#841233" stroke-width="1.6"/>
<path d="M66.2,449.5H82.6" stroke="#2c3f64" stroke-width="1.6"/>
<text x="85.2" y="442.0" font-size="7.2" textLength="64.4" lengthAdjust="spacingAndGlyphs" fill="#3a3a3a" stroke="#3a3a3a" stroke-width="0">High: n = 19 (28%)</text>
<text x="85.2" y="452.0" font-size="7.2" textLength="62.4" lengthAdjust="spacingAndGlyphs" fill="#3a3a3a" stroke="#3a3a3a" stroke-width="0">Low: n = 49 (72%)</text>
<text x="145.2" y="499.7" font-size="8.4" textLength="32.9" lengthAdjust="spacingAndGlyphs" fill="#3c3c3c" stroke="#3c3c3c" stroke-width="0.05">p &lt; 0.001</text>
<text x="16.8" y="575.4" font-size="8.5" textLength="37.5" lengthAdjust="spacingAndGlyphs" fill="#2a2a2a" stroke="#2a2a2a" stroke-width="0.1">No. at risk:</text>
<text x="16.8" y="584.9" font-size="8.1" textLength="18.5" lengthAdjust="spacingAndGlyphs" fill="#a8456a" stroke="#a8456a" stroke-width="0.1">High:</text>
<text x="16.8" y="594.5" font-size="8.1" textLength="16.5" lengthAdjust="spacingAndGlyphs" fill="#4e6690" stroke="#4e6690" stroke-width="0.1">Low:</text>
<text x="63.30" y="584.7" font-size="8.4" text-anchor="middle" textLength="8.6" lengthAdjust="spacingAndGlyphs" fill="#3c3c3c" stroke="#3c3c3c" stroke-width="0.1">19</text>
<text x="63.30" y="594.3" font-size="8.4" text-anchor="middle" textLength="8.6" lengthAdjust="spacingAndGlyphs" fill="#3c3c3c" stroke="#3c3c3c" stroke-width="0.1">49</text>
<text x="81.30" y="584.7" font-size="8.4" text-anchor="middle" textLength="8.6" lengthAdjust="spacingAndGlyphs" fill="#3c3c3c" stroke="#3c3c3c" stroke-width="0.1">10</text>
<text x="81.30" y="594.3" font-size="8.4" text-anchor="middle" textLength="8.6" lengthAdjust="spacingAndGlyphs" fill="#3c3c3c" stroke="#3c3c3c" stroke-width="0.1">47</text>
<text x="99.30" y="584.7" font-size="8.4" text-anchor="middle" textLength="4.3" lengthAdjust="spacingAndGlyphs" fill="#3c3c3c" stroke="#3c3c3c" stroke-width="0.1">4</text>
<text x="99.30" y="594.3" font-size="8.4" text-anchor="middle" textLength="8.6" lengthAdjust="spacingAndGlyphs" fill="#3c3c3c" stroke="#3c3c3c" stroke-width="0.1">41</text>
<text x="117.30" y="584.7" font-size="8.4" text-anchor="middle" textLength="4.3" lengthAdjust="spacingAndGlyphs" fill="#3c3c3c" stroke="#3c3c3c" stroke-width="0.1">3</text>
<text x="117.30" y="594.3" font-size="8.4" text-anchor="middle" textLength="8.6" lengthAdjust="spacingAndGlyphs" fill="#3c3c3c" stroke="#3c3c3c" stroke-width="0.1">32</text>
<text x="135.30" y="584.7" font-size="8.4" text-anchor="middle" textLength="4.3" lengthAdjust="spacingAndGlyphs" fill="#3c3c3c" stroke="#3c3c3c" stroke-width="0.1">2</text>
<text x="135.30" y="594.3" font-size="8.4" text-anchor="middle" textLength="8.6" lengthAdjust="spacingAndGlyphs" fill="#3c3c3c" stroke="#3c3c3c" stroke-width="0.1">29</text>
<text x="153.30" y="584.7" font-size="8.4" text-anchor="middle" textLength="4.3" lengthAdjust="spacingAndGlyphs" fill="#3c3c3c" stroke="#3c3c3c" stroke-width="0.1">2</text>
<text x="153.30" y="594.3" font-size="8.4" text-anchor="middle" textLength="8.6" lengthAdjust="spacingAndGlyphs" fill="#3c3c3c" stroke="#3c3c3c" stroke-width="0.1">26</text>
<text x="171.30" y="584.7" font-size="8.4" text-anchor="middle" textLength="4.3" lengthAdjust="spacingAndGlyphs" fill="#3c3c3c" stroke="#3c3c3c" stroke-width="0.1">2</text>
<text x="171.30" y="594.3" font-size="8.4" text-anchor="middle" textLength="8.6" lengthAdjust="spacingAndGlyphs" fill="#3c3c3c" stroke="#3c3c3c" stroke-width="0.1">10</text>
<path d="M63.30,535.80H65.60H65.80V534.20H80.80H81.10V532.95H81.40V531.70H92.90H94.10V529.80H99.50H100.70V527.70H122.40V524.90H129.60V522.10H171.30" stroke="#2c3f64" stroke-width="1.65" fill="none" stroke-linejoin="miter"/>
<path d="M63.30,535.80H63.47V534.20H63.63V532.60H63.80V531.00H68.00H68.23V529.37H68.47V527.73H68.70V526.10H70.50H70.74V524.78H70.98V523.46H71.22V522.14H71.46V520.82H71.70V519.50H71.90V518.08H72.10V516.67H72.30V515.25H72.50V513.83H72.70V512.42H72.90V511.00H74.10V509.80H74.30V508.40H74.50V507.00H74.70V505.60H74.87V504.13H75.04V502.66H75.21V501.19H75.39V499.71H75.56V498.24H75.73V496.77H75.90V495.30H84.40H84.70V493.77H85.00V492.25H85.30V490.73H85.60V489.20H85.80V487.80H86.00V486.40H86.20V485.00H88.00H88.40V483.37H88.80V481.73H89.20V480.10H91.00H91.33V478.75H91.65V477.40H91.97V476.05H92.30V474.70H97.70H97.85V473.43H98.00V472.15H98.15V470.88H98.30V469.60H128.60V462.70H171.30" stroke="#841233" stroke-width="1.65" fill="none" stroke-linejoin="miter"/>
<path d="M233.3,436.79999999999995V535.85" stroke="#111" stroke-width="1.5" fill="none"/>
<path d="M232.60000000000002,535.85H344.0" stroke="#111" stroke-width="1.5" fill="none"/>
<path d="M230.10000000000002,535.85H233.3" stroke="#111" stroke-width="1.2"/>
<path d="M230.10000000000002,516.56H233.3" stroke="#111" stroke-width="1.2"/>
<path d="M230.10000000000002,497.27H233.3" stroke="#111" stroke-width="1.2"/>
<path d="M230.10000000000002,477.98H233.3" stroke="#111" stroke-width="1.2"/>
<path d="M230.10000000000002,458.69H233.3" stroke="#111" stroke-width="1.2"/>
<path d="M230.10000000000002,439.40H233.3" stroke="#111" stroke-width="1.2"/>
<path d="M233.30,535.85V539.15" stroke="#111" stroke-width="1.3"/>
<path d="M251.27,535.85V539.15" stroke="#111" stroke-width="1.3"/>
<path d="M269.23,535.85V539.15" stroke="#111" stroke-width="1.3"/>
<path d="M287.20,535.85V539.15" stroke="#111" stroke-width="1.3"/>
<path d="M305.17,535.85V539.15" stroke="#111" stroke-width="1.3"/>
<path d="M323.13,535.85V539.15" stroke="#111" stroke-width="1.3"/>
<path d="M341.10,535.85V539.15" stroke="#111" stroke-width="1.3"/>
<text x="226.6" y="538.40" font-size="8.7" text-anchor="end" textLength="4.3" lengthAdjust="spacingAndGlyphs" fill="#3c3c3c" stroke="#3c3c3c" stroke-width="0.1">0</text>
<text x="226.6" y="519.11" font-size="8.7" text-anchor="end" textLength="8.8" lengthAdjust="spacingAndGlyphs" fill="#3c3c3c" stroke="#3c3c3c" stroke-width="0.1">20</text>
<text x="226.6" y="499.82" font-size="8.7" text-anchor="end" textLength="8.8" lengthAdjust="spacingAndGlyphs" fill="#3c3c3c" stroke="#3c3c3c" stroke-width="0.1">40</text>
<text x="226.6" y="480.53" font-size="8.7" text-anchor="end" textLength="8.8" lengthAdjust="spacingAndGlyphs" fill="#3c3c3c" stroke="#3c3c3c" stroke-width="0.1">60</text>
<text x="226.6" y="461.24" font-size="8.7" text-anchor="end" textLength="8.8" lengthAdjust="spacingAndGlyphs" fill="#3c3c3c" stroke="#3c3c3c" stroke-width="0.1">80</text>
<text x="226.6" y="441.95" font-size="8.7" text-anchor="end" textLength="13.2" lengthAdjust="spacingAndGlyphs" fill="#3c3c3c" stroke="#3c3c3c" stroke-width="0.1">100</text>
<text x="233.30" y="549.4" font-size="8.7" text-anchor="middle" textLength="4.2" lengthAdjust="spacingAndGlyphs" fill="#3c3c3c" stroke="#3c3c3c" stroke-width="0.1">0</text>
<text x="251.27" y="549.4" font-size="8.7" text-anchor="middle" textLength="4.2" lengthAdjust="spacingAndGlyphs" fill="#3c3c3c" stroke="#3c3c3c" stroke-width="0.1">2</text>
<text x="269.23" y="549.4" font-size="8.7" text-anchor="middle" textLength="4.2" lengthAdjust="spacingAndGlyphs" fill="#3c3c3c" stroke="#3c3c3c" stroke-width="0.1">4</text>
<text x="287.20" y="549.4" font-size="8.7" text-anchor="middle" textLength="4.2" lengthAdjust="spacingAndGlyphs" fill="#3c3c3c" stroke="#3c3c3c" stroke-width="0.1">6</text>
<text x="305.17" y="549.4" font-size="8.7" text-anchor="middle" textLength="4.2" lengthAdjust="spacingAndGlyphs" fill="#3c3c3c" stroke="#3c3c3c" stroke-width="0.1">8</text>
<text x="323.13" y="549.4" font-size="8.7" text-anchor="middle" textLength="8.6" lengthAdjust="spacingAndGlyphs" fill="#3c3c3c" stroke="#3c3c3c" stroke-width="0.1">10</text>
<text x="341.10" y="549.4" font-size="8.7" text-anchor="middle" textLength="8.6" lengthAdjust="spacingAndGlyphs" fill="#3c3c3c" stroke="#3c3c3c" stroke-width="0.1">12</text>
<text x="288.8" y="563.6" font-size="10" text-anchor="middle" textLength="83.0" lengthAdjust="spacingAndGlyphs" fill="#333" stroke="#333" stroke-width="0.1">Months since treatment</text>
<text transform="translate(206.9,486.1) rotate(-90)" font-size="10" text-anchor="middle" textLength="66.4" lengthAdjust="spacingAndGlyphs" fill="#333" stroke="#333" stroke-width="0.1">Overall survival (%)</text>
<text x="315.1" y="488.3" font-size="8.4" textLength="33.1" lengthAdjust="spacingAndGlyphs" fill="#3c3c3c" stroke="#3c3c3c" stroke-width="0.05">p &lt; 0.001</text>
<path d="M233.30,439.60H235.40H235.60V441.30H250.90H252.30V443.20H263.40H264.10V444.73H264.80V446.27H265.50V447.80H266.90V449.20H269.70H270.75V450.25H271.80V451.30H273.90V453.10H285.80V455.80H292.40V458.20H299.10V461.10H341.10" stroke="#2c3f64" stroke-width="1.65" fill="none"/>
<path d="M233.30,439.50H233.60V441.13H233.90V442.77H234.20V444.40H239.10H239.30V446.00H239.50V447.60H239.70V449.20H241.10H241.28V450.43H241.45V451.65H241.62V452.88H241.80V454.10H241.98V455.41H242.15V456.73H242.32V458.04H242.50V459.35H242.68V460.66H242.85V461.98H243.02V463.29H243.20V464.60H243.67V466.20H244.13V467.80H244.60V469.40H244.78V470.71H244.95V472.02H245.12V473.34H245.30V474.65H245.47V475.96H245.65V477.27H245.82V478.59H246.00V479.90H250.90V485.10H255.00H255.10V486.53H255.20V487.96H255.30V489.39H255.40V490.81H255.50V492.24H255.60V493.67H255.70V495.10H259.10V500.40H262.00V505.20H268.00V510.40H271.40V515.70H298.60V522.10H341.10" stroke="#841233" stroke-width="1.65" fill="none"/>
<path d="M404.8,436.29999999999995V535.7" stroke="#111" stroke-width="1.5" fill="none"/>
<path d="M404.1,535.7H512.5" stroke="#111" stroke-width="1.4" fill="none"/>
<path d="M401.6,535.70H404.8" stroke="#111" stroke-width="1.2"/>
<path d="M401.6,516.34H404.8" stroke="#111" stroke-width="1.2"/>
<path d="M401.6,496.98H404.8" stroke="#111" stroke-width="1.2"/>
<path d="M401.6,477.62H404.8" stroke="#111" stroke-width="1.2"/>
<path d="M401.6,458.26H404.8" stroke="#111" stroke-width="1.2"/>
<path d="M401.6,438.90H404.8" stroke="#111" stroke-width="1.2"/>
<path d="M436.5,535.7V539.0" stroke="#111" stroke-width="1.3"/>
<path d="M481.0,535.7V539.0" stroke="#111" stroke-width="1.3"/>
<text x="398.1" y="538.25" font-size="8.7" text-anchor="end" textLength="4.3" lengthAdjust="spacingAndGlyphs" fill="#3c3c3c" stroke="#3c3c3c" stroke-width="0.1">0</text>
<text x="398.1" y="518.89" font-size="8.7" text-anchor="end" textLength="8.8" lengthAdjust="spacingAndGlyphs" fill="#3c3c3c" stroke="#3c3c3c" stroke-width="0.1">20</text>
<text x="398.1" y="499.53" font-size="8.7" text-anchor="end" textLength="8.8" lengthAdjust="spacingAndGlyphs" fill="#3c3c3c" stroke="#3c3c3c" stroke-width="0.1">40</text>
<text x="398.1" y="480.17" font-size="8.7" text-anchor="end" textLength="8.8" lengthAdjust="spacingAndGlyphs" fill="#3c3c3c" stroke="#3c3c3c" stroke-width="0.1">60</text>
<text x="398.1" y="460.81" font-size="8.7" text-anchor="end" textLength="8.8" lengthAdjust="spacingAndGlyphs" fill="#3c3c3c" stroke="#3c3c3c" stroke-width="0.1">80</text>
<text x="398.1" y="441.45" font-size="8.7" text-anchor="end" textLength="13.2" lengthAdjust="spacingAndGlyphs" fill="#3c3c3c" stroke="#3c3c3c" stroke-width="0.1">100</text>
<text transform="translate(366.6,486.0) rotate(-90)" font-size="10" text-anchor="middle" textLength="71.6" lengthAdjust="spacingAndGlyphs" fill="#333" stroke="#333" stroke-width="0.1">Treatment resistance</text>
<text transform="translate(379.0,485.7) rotate(-90)" font-size="10" text-anchor="middle" textLength="46.8" lengthAdjust="spacingAndGlyphs" fill="#333" stroke="#333" stroke-width="0.1">at week 4 (%)</text>
<rect x="424.1" y="508.4" width="24.9" height="27.30" fill="#2e4a7f" stroke="#1f3360" stroke-width="0.8"/>
<rect x="468.7" y="470.09999999999997" width="24.7" height="65.60" fill="#a5002d" stroke="#86082a" stroke-width="0.8"/>
<path d="M436.5,508.0V501.2M430,501.2H442.9" stroke="#2a3552" stroke-width="1.3" fill="none"/>
<path d="M481,469.7V459.5M474.8,459.5H487.7" stroke="#9a0c35" stroke-width="1.3" fill="none"/>
<path d="M404.1,535.7H512.5" stroke="#111" stroke-width="1.4" fill="none"/>
<text x="436.5" y="549.4000000000001" font-size="8.4" text-anchor="middle" textLength="15.5" lengthAdjust="spacingAndGlyphs" fill="#3c3c3c" stroke="#3c3c3c" stroke-width="0.1">Low</text>
<text x="481.0" y="549.4000000000001" font-size="8.4" text-anchor="middle" textLength="17.5" lengthAdjust="spacingAndGlyphs" fill="#3c3c3c" stroke="#3c3c3c" stroke-width="0.1">High</text>
<text x="446.0" y="441.9" font-size="8.4" textLength="33.0" lengthAdjust="spacingAndGlyphs" fill="#3c3c3c" stroke="#3c3c3c" stroke-width="0.1">p = 0.004</text>
<rect x="0.65" y="0.65" width="518.7" height="601.7" fill="none" stroke="#000" stroke-width="1.3"/>
</svg></body></html>
